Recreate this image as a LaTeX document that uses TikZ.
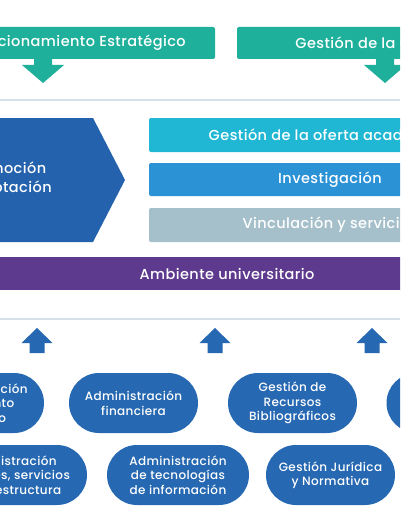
\documentclass[tikz,border=0pt]{standalone}
\usepackage{fontspec}
\setmainfont[LetterSpace=3, UprightFont=* Medium]{Poppins}
\usetikzlibrary{positioning}
\definecolor{EstrTeal}{RGB}{30,176,155}
\definecolor{OfertaCyan}{RGB}{31,183,212}
\definecolor{InvBlue}{RGB}{43,146,214}
\definecolor{VincGray}{RGB}{165,192,203}
\definecolor{MisionBlue}{RGB}{36,98,173}
\definecolor{AmbPurple}{RGB}{94,58,142}
\definecolor{ApoyoBlue}{RGB}{38,104,177}
\definecolor{SepLine}{RGB}{214,224,232}

\tikzset{
    estbox/.style={fill=EstrTeal, text=white, rounded corners=2pt, minimum height=32pt, font=\fontsize{14.5}{16}\selectfont},
    barbox/.style={text=white, rounded corners=2pt, minimum width=362pt, inner sep=0pt, font=\fontsize{14.5}{16}\selectfont},
    apoyo/.style={fill=ApoyoBlue, text=white, rounded corners=30pt, minimum height=60pt, align=center, inner sep=0pt, font=\fontsize{12}{14.5}\selectfont}
}

\begin{document}
\begin{tikzpicture}[x=1pt, y=-1pt]
        \useasboundingbox (0,0) rectangle (400,516);
        \clip (0,0) rectangle (400,516);
        \fill[white] (0,0) rectangle (400,516);

        % procesos estrategicos
        \node[estbox, minimum width=286pt] (direccion) at (72,43) {Direccionamiento Estratégico};
        \node[estbox, minimum width=282pt] (calidad) at (378,43) {Gestión de la Calidad};
        \foreach \ax in {43, 385}
            \fill[EstrTeal] (\ax-9,58) -- (\ax-9,65) -- (\ax-21,65) -- (\ax,83) -- (\ax+21,65) -- (\ax+9,65) -- (\ax+9,58) -- cycle;

        \draw[SepLine, line width=1.5pt] (0,100) -- (400,100);

        % procesos misionales
        \fill[MisionBlue] (-80,118) -- (93,118) -- (125,180) -- (93,242) -- (-80,242) -- cycle;
        \node[text=white, align=center, font=\fontsize{14.5}{18.5}\selectfont] (promocion) at (5,179) {Promoción\\y Captación};

        \node[barbox, fill=OfertaCyan, minimum height=34pt] (oferta) at (330,135) {Gestión de la oferta académica};
        \node[barbox, fill=InvBlue, minimum height=33pt] (investigacion) at (330,179.5) {Investigación};
        \node[barbox, fill=VincGray, minimum height=34pt] (vinculacion) at (330,225) {Vinculación y servicios};

        \node[fill=AmbPurple, text=white, minimum width=620pt, minimum height=33pt, inner sep=0pt, font=\fontsize{14.5}{16}\selectfont] (ambiente) at (227,273.5) {Ambiente universitario};

        \draw[SepLine, line width=1.5pt] (0,319) -- (400,319);

        % procesos de apoyo
        \foreach \ax in {37, 215, 372}
            \fill[ApoyoBlue] (\ax-7.5,353) -- (\ax-7.5,343) -- (\ax-15.5,343) -- (\ax,328) -- (\ax+15.5,343) -- (\ax+7.5,343) -- (\ax+7.5,353) -- cycle;

        \node[apoyo, minimum width=130pt] (talento) at (-21,403) {Administración\\del Talento\\Humano};
        \node[apoyo, minimum width=129pt] (financiera) at (133.5,403) {Administración\\financiera};
        \node[apoyo, minimum width=129pt] (biblio) at (292.5,403) {Gestión de\\Recursos\\Bibliográficos};
        \node[apoyo, minimum width=129pt] (bienestar) at (451,403) {Bienestar\\Universitario};

        \node[apoyo, minimum width=158pt] (bienes) at (8,475) {Administración\\de bienes, servicios\\e infraestructura};
        \node[apoyo, minimum width=142pt] (tecnologias) at (178,475) {Administración\\de tecnologías\\de información};
        \node[apoyo, minimum width=129pt] (juridica) at (330.5,475) {Gestión Jurídica\\y Normativa};
    \end{tikzpicture}
\end{document}
